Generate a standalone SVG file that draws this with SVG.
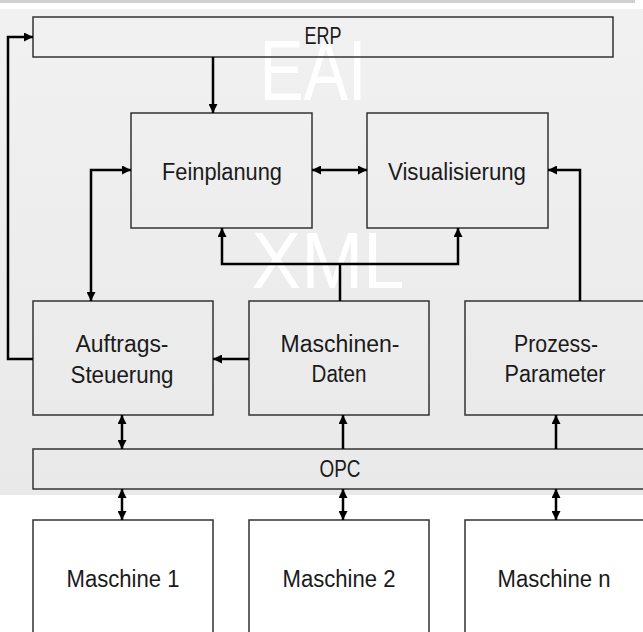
<svg xmlns="http://www.w3.org/2000/svg" width="643" height="632" viewBox="0 0 643 632">
<defs>
<linearGradient id="bg" x1="0" y1="0" x2="0" y2="1">
<stop offset="0" stop-color="#f1f1f1"/>
<stop offset="1" stop-color="#e9e9e9"/>
</linearGradient>
<marker id="ah" viewBox="0 0 10 10" refX="10" refY="5" markerWidth="9" markerHeight="9" markerUnits="userSpaceOnUse" orient="auto-start-reverse">
<path d="M0,0 L10,5 L0,10 z" fill="#000"/>
</marker>
<style>
.box{fill:none;stroke:#333;stroke-width:1.5}
.mbox{fill:#fff;stroke:#333;stroke-width:1.5}
.t{font-family:"Liberation Sans",Arial,sans-serif;font-size:23.5px;fill:#1a1a1a;text-anchor:middle}
.wm{font-family:"Liberation Sans",Arial,sans-serif;fill:#fff;text-anchor:middle}
.c{fill:none;stroke:#000;stroke-width:2.5}
</style>
</defs>
<rect x="0" y="0" width="643" height="632" fill="#fff"/>
<rect x="0" y="0" width="635" height="3" fill="#d0d0d0"/>
<rect x="0" y="9" width="643" height="486" fill="url(#bg)"/>
<text class="wm" x="313" y="100" font-size="86" textLength="107" lengthAdjust="spacingAndGlyphs">EAI</text>
<text class="wm" x="328" y="288" font-size="80" textLength="153" lengthAdjust="spacingAndGlyphs">XML</text>

<g id="erp"><rect class="box" x="33" y="17" width="580" height="40"/><text class="t" x="323" y="44" textLength="37" lengthAdjust="spacingAndGlyphs">ERP</text></g>
<g id="feinplanung"><rect class="box" x="131" y="113" width="181" height="115"/><text class="t" x="222" y="180" textLength="120" lengthAdjust="spacingAndGlyphs">Feinplanung</text></g>
<g id="visualisierung"><rect class="box" x="367" y="113" width="181" height="115"/><text class="t" x="457" y="180" textLength="138" lengthAdjust="spacingAndGlyphs">Visualisierung</text></g>
<g id="auftrags"><rect class="box" x="33" y="301" width="180" height="114"/><text class="t" x="122" y="352" textLength="93" lengthAdjust="spacingAndGlyphs">Auftrags-</text><text class="t" x="122" y="383" textLength="103" lengthAdjust="spacingAndGlyphs">Steuerung</text></g>
<g id="maschinendaten"><rect class="box" x="249" y="301" width="180" height="114"/><text class="t" x="340" y="352" textLength="119" lengthAdjust="spacingAndGlyphs">Maschinen-</text><text class="t" x="339" y="382" textLength="55" lengthAdjust="spacingAndGlyphs">Daten</text></g>
<g id="prozess"><rect class="box" x="465" y="301" width="185" height="114"/><text class="t" x="556" y="352" textLength="84" lengthAdjust="spacingAndGlyphs">Prozess-</text><text class="t" x="555" y="382" textLength="101" lengthAdjust="spacingAndGlyphs">Parameter</text></g>
<g id="opc"><rect class="box" x="33" y="449" width="620" height="40"/><text class="t" x="340" y="477" textLength="41" lengthAdjust="spacingAndGlyphs">OPC</text></g>
<g id="m1"><rect class="mbox" x="33" y="520" width="180" height="130"/><text class="t" x="123" y="587" textLength="113" lengthAdjust="spacingAndGlyphs">Maschine 1</text></g>
<g id="m2"><rect class="mbox" x="249" y="520" width="180" height="130"/><text class="t" x="339" y="587" textLength="113" lengthAdjust="spacingAndGlyphs">Maschine 2</text></g>
<g id="mn"><rect class="mbox" x="465" y="520" width="185" height="130"/><text class="t" x="554" y="587" textLength="113" lengthAdjust="spacingAndGlyphs">Maschine n</text></g>

<g id="connectors">
<path class="c" d="M213,57 V113" marker-end="url(#ah)"/>
<path class="c" d="M312,170 H367" marker-start="url(#ah)" marker-end="url(#ah)"/>
<path class="c" d="M91,301 V170 H131" marker-start="url(#ah)" marker-end="url(#ah)"/>
<path class="c" d="M340,301 V264"/>
<path class="c" d="M340,264 H222 V228" marker-end="url(#ah)"/>
<path class="c" d="M340,264 H458 V228" marker-end="url(#ah)"/>
<path class="c" d="M580,301 V170 H548" marker-end="url(#ah)"/>
<path class="c" d="M249,359 H213" marker-end="url(#ah)"/>
<path class="c" d="M33,359 H8 V37 H33" marker-end="url(#ah)"/>
<path class="c" d="M122,415 V449" marker-start="url(#ah)" marker-end="url(#ah)"/>
<path class="c" d="M343,449 V415" marker-end="url(#ah)"/>
<path class="c" d="M556,449 V415" marker-end="url(#ah)"/>
<path class="c" d="M122,489 V520" marker-start="url(#ah)" marker-end="url(#ah)"/>
<path class="c" d="M343,489 V520" marker-start="url(#ah)" marker-end="url(#ah)"/>
<path class="c" d="M556,489 V520" marker-start="url(#ah)" marker-end="url(#ah)"/>
</g>
</svg>
